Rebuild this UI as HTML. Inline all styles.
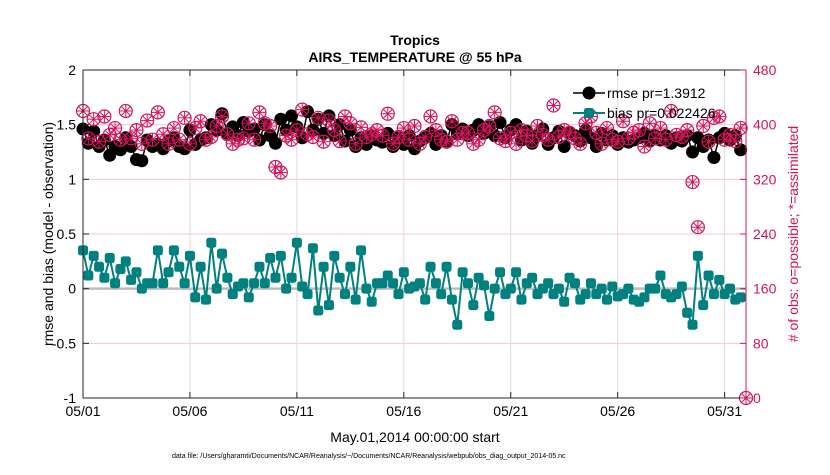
<!DOCTYPE html>
<html><head><meta charset="utf-8"><style>
body{margin:0;background:#fff;width:830px;height:470px;overflow:hidden}
svg{font-family:"Liberation Sans",sans-serif}
</style></head><body>
<svg id="chart" width="830" height="470" viewBox="0 0 830 470" xmlns="http://www.w3.org/2000/svg">
<rect width="830" height="470" fill="#fff"/>
<g id="grid"></g>
<g id="marks"></g>
<g id="axes"></g>
<text x="415" y="45" text-anchor="middle" font-size="14" font-weight="bold">Tropics</text>
<text x="415" y="62" text-anchor="middle" font-size="14" font-weight="bold">AIRS_TEMPERATURE @ 55 hPa</text>
<text x="415" y="442" text-anchor="middle" font-size="14">May.01,2014 00:00:00 start</text>
<text transform="translate(53,234) rotate(-90)" text-anchor="middle" font-size="14">rmse and bias (model - observation)</text>
<text transform="translate(798,234) rotate(-90)" text-anchor="middle" font-size="14" fill="#d4145a"># of obs: o=possible; *=assimilated</text>
<text x="172" y="458" font-size="7">data file: /Users/gharamti/Documents/NCAR/Reanalysis/~/Documents/NCAR/Reanalysis/webpub/obs_diag_output_2014-05.nc</text>
<g id="legend"></g>
</svg>
<script>
const xTickLabels=["05/01","05/06","05/11","05/16","05/21","05/26","05/31"];
const xTickDays=[0,5,10,15,20,25,30];
const yLeftTicks=[-1,-0.5,0,0.5,1,1.5,2];
const yRightTicks=[0,80,160,240,320,400,480];
const bias=[0.35,0.12,0.3,0.2, 0.1,0.28,0.05,0.18, 0.25,0.08,0.15,0.0, 0.05,0.05,0.35,0.05,
0.15,0.35,0.2,0.05, 0.3,-0.08,0.2,-0.1, 0.42,0.0,0.32,0.1, -0.05,0.02,0.05,-0.08,
0.05,0.2,0.05,0.28, 0.1,0.3,0.0,0.1, 0.42,0.02,-0.05,0.37, -0.2,0.2,-0.15,0.3,
0.1,-0.05,0.2,-0.1, 0.35,0.0,-0.12,0.05, 0.05,0.12,0.05,-0.05, 0.15,0.0,0.02,0.05,
-0.1,0.2,0.05,-0.05, 0.2,-0.1,-0.33,0.15, 0.05,-0.15,0.1,0.03, -0.25,0.0,0.15,-0.05,
0.0,0.15,-0.1,0.05, 0.1,-0.05,0.0,0.05, -0.05,0.0,-0.12,0.1, 0.05,-0.1,-0.05,0.05,
-0.05,0.0,-0.1,0.02, -0.07,-0.05,0.0,-0.1, -0.12,-0.08,0.0,0.0, 0.12,-0.05,-0.08,-0.05,
0.02,-0.22,-0.33,0.3, -0.15,0.12,-0.05,0.08, -0.05,0.0,-0.1,-0.08];
const rmse=[1.46,1.33,1.44,1.3, 1.36,1.22,1.3,1.27, 1.38,1.3,1.18,1.17, 1.36,1.3,1.32,1.28,
1.35,1.38,1.3,1.28, 1.45,1.32,1.36,1.38, 1.5,1.45,1.6,1.42, 1.48,1.4,1.52,1.44,
1.46,1.36,1.5,1.4, 1.33,1.55,1.45,1.58, 1.48,1.38,1.62,1.45, 1.55,1.42,1.58,1.4,
1.5,1.35,1.45,1.3, 1.38,1.32,1.4,1.36, 1.34,1.42,1.3,1.38, 1.32,1.4,1.28,1.35,
1.38,1.42,1.32,1.4, 1.35,1.5,1.42,1.46, 1.4,1.45,1.5,1.42, 1.48,1.4,1.52,1.38,
1.45,1.5,1.36,1.44, 1.33,1.4,1.46,1.32, 1.38,1.44,1.3,1.42, 1.4,1.35,1.45,1.38,
1.3,1.42,1.36,1.4, 1.32,1.38,1.34,1.36, 1.38,1.42,1.35,1.4, 1.36,1.4,1.33,1.38,
1.35,1.4,1.25,1.38, 1.3,1.36,1.2,1.38, 1.42,1.36,1.4,1.27];
const possible=[420,380,408,375, 412,385,395,378, 420,380,392,372, 406,378,418,386,
372,395,378,410, 372,395,405,378, 382,398,412,386, 372,378,380,402,
378,418,402,398, 338,330,384,378, 392,422,386,382, 410,375,406,392,
376,412,402,372, 396,382,386,392, 384,416,372,382, 395,378,398,372,
382,412,392,378, 375,405,378,388, 388,372,378,392, 398,418,380,376,
388,372,392,384, 376,398,385,378, 428,382,392,388, 380,372,402,412,
388,372,395,378, 375,405,380,388, 392,368,402,380, 395,378,420,385,
382,392,316,250, 398,375,410,412, 378,385,376,395, 0];
const assimilated=possible.slice();
const X0=83,X1=746,Y0=70,Y1=398,NDAYS=31;
const xs=d=>X0+(X1-X0)*d/NDAYS;
const yL=v=>Y1-(v+1)/3*(Y1-Y0);
const yR=n=>Y1-n/480*(Y1-Y0);
const NS="http://www.w3.org/2000/svg";
function mk(tag,attrs,parent){const e=document.createElementNS(NS,tag);for(const k in attrs)e.setAttribute(k,attrs[k]);parent.appendChild(e);return e;}
const grid=document.getElementById('grid'),marks=document.getElementById('marks'),axes=document.getElementById('axes');
const PINK="#d4145a",TEAL="#00807e";
yRightTicks.forEach(t=>{if(t>0&&t<480&&t!==160){const l=mk('line',{x1:X0,x2:X1,y1:yR(t),y2:yR(t),stroke:'#f3c8d6','stroke-width':1},grid);

}});
xTickDays.forEach(d=>{if(d>0){const l=mk('line',{x1:xs(d),x2:xs(d),y1:Y0,y2:Y1,stroke:'#dcdcdc','stroke-width':1},grid);

}});
const zl=mk('line',{x1:X0,x2:X1,y1:yL(0),y2:yL(0),stroke:'#bdbdbd','stroke-width':2.5},grid);


const rp=rmse.map((v,i)=>xs(i/4)+','+yL(v)).join(' ');
const rl=mk('polyline',{points:rp,fill:'none',stroke:'#000','stroke-width':1.5},marks);


rmse.forEach((v,i)=>{const c=mk('circle',{cx:xs(i/4),cy:yL(v),r:6.5,fill:'#000'},marks);

});
function star(cx,cy,g){for(let a=0;a<4;a++){const an=a*Math.PI/4;mk('line',{x1:cx-6*Math.cos(an),y1:cy-6*Math.sin(an),x2:cx+6*Math.cos(an),y2:cy+6*Math.sin(an),stroke:PINK,'stroke-width':1},g);}}
possible.forEach((n,i)=>{const g=mk('g',{},marks);


mk('circle',{cx:xs(i/4),cy:yR(n),r:6.5,fill:'none',stroke:PINK,'stroke-width':1.2},g);});
assimilated.forEach((n,i)=>{const g=mk('g',{},marks);


star(xs(i/4),yR(n),g);});
const bp=bias.map((v,i)=>xs(i/4)+','+yL(v)).join(' ');
const bl=mk('polyline',{points:bp,fill:'none',stroke:TEAL,'stroke-width':2},marks);


bias.forEach((v,i)=>{const r=mk('rect',{x:xs(i/4)-5,y:yL(v)-5,width:10,height:10,rx:2.5,fill:TEAL},marks);

});
const fr=mk('path',{d:`M${X0},${Y1}V${Y0}H${X1}`,fill:'none',stroke:'#262626','stroke-width':1},axes);


const bx=mk('line',{x1:X0,x2:X1,y1:Y1,y2:Y1,stroke:'#262626','stroke-width':1},axes);


const ra=mk('line',{x1:X1,x2:X1,y1:Y0,y2:Y1,stroke:PINK,'stroke-width':1},axes);


xTickDays.forEach((d,i)=>{mk('line',{x1:xs(d),x2:xs(d),y1:Y1,y2:Y1-6,stroke:'#262626'},axes);mk('line',{x1:xs(d),x2:xs(d),y1:Y0,y2:Y0+6,stroke:'#262626'},axes);
const t=mk('text',{x:xs(d),y:Y1+18,'text-anchor':'middle','font-size':14},axes);t.textContent=xTickLabels[i];

});
yLeftTicks.forEach(v=>{mk('line',{x1:X0,x2:X0+6,y1:yL(v),y2:yL(v),stroke:'#262626'},axes);
const t=mk('text',{x:X0-7,y:yL(v)+5,'text-anchor':'end','font-size':14},axes);t.textContent=String(v);

});
yRightTicks.forEach(n=>{mk('line',{x1:X1,x2:X1-6,y1:yR(n),y2:yR(n),stroke:PINK},axes);
const t=mk('text',{x:X1+7,y:yR(n)+5,'font-size':14,fill:PINK},axes);t.textContent=String(n);

});
const lg=document.getElementById('legend');
mk('line',{x1:573,x2:605,y1:93,y2:93,stroke:'#000','stroke-width':1.5},lg);
mk('circle',{cx:589,cy:93,r:6.5,fill:'#000'},lg);
const t1=mk('text',{x:607,y:98,'font-size':14},lg);t1.textContent='rmse pr=1.3912';


mk('line',{x1:573,x2:605,y1:113,y2:113,stroke:TEAL,'stroke-width':2},lg);
mk('rect',{x:584,y:108,width:10,height:10,rx:2.5,fill:TEAL},lg);
const t2=mk('text',{x:607,y:118,'font-size':14},lg);t2.textContent='bias pr=0.022426';


</script>
</body></html>
